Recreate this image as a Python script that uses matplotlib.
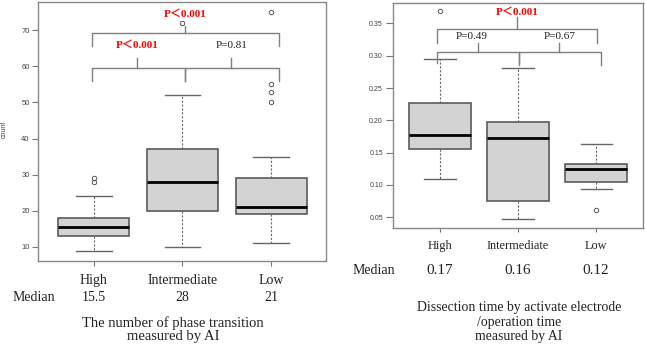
import matplotlib
matplotlib.use("Agg")
import matplotlib.pyplot as plt
from matplotlib.transforms import blended_transform_factory

# ---- data ----
groups = ["High", "Intermediate", "Low"]

# left: number of phase transitions
count_q1 = [13, 20, 19]
count_med = [15.5, 28, 21]
count_q3 = [18, 37, 29]
count_lo = [9, 10, 11]
count_hi = [24, 52, 35]
count_out = [[28, 29], [72], [50, 53, 55, 75]]
count_med_txt = ["15.5", "28", "21"]

# right: dissection time / operation time
ratio_q1 = [0.156, 0.076, 0.104]
ratio_med = [0.178, 0.173, 0.124]
ratio_q3 = [0.227, 0.197, 0.132]
ratio_lo = [0.109, 0.047, 0.094]
ratio_hi = [0.295, 0.281, 0.163]
ratio_out = [[0.369], [], [0.061]]
ratio_med_txt = ["0.17", "0.16", "0.12"]

SERIF = ["Liberation Serif", "Noto Sans CJK JP"]
W, H = 645, 346

def stats(q1, med, q3, lo, hi, out):
    return [dict(q1=a, med=b, q3=c, whislo=d, whishi=e, fliers=f)
            for a, b, c, d, e, f in zip(q1, med, q3, lo, hi, out)]

def draw_box(ax, st):
    ax.bxp(st, positions=[1, 2, 3], widths=0.8, capwidths=0.4, patch_artist=True,
           boxprops=dict(facecolor="#d3d3d3", edgecolor="#5a5a5a", linewidth=1.2),
           medianprops=dict(color="black", linewidth=2.0),
           whiskerprops=dict(color="#666666", linestyle=(0, (2, 1.5)), linewidth=0.8),
           capprops=dict(color="#666666", linewidth=1.0),
           flierprops=dict(marker="o", markersize=3.2, markerfacecolor="none",
                           markeredgecolor="#555555", markeredgewidth=0.7))
    for s in ax.spines.values():
        s.set_color("#888888")
        s.set_linewidth(1.0)
    ax.tick_params(colors="#777777", labelcolor="#444444", width=0.8)
    ax.set_xticks([1, 2, 3])
    ax.set_xticklabels([])

def brace(ax, x0, x1, y, ylow, xt, ytop):
    c = "#808080"
    ax.plot([x0, x0, x1, x1], [ylow, y, y, ylow], color=c, lw=1.0, clip_on=False)
    ax.plot([xt, xt], [y, ytop], color=c, lw=1.0, clip_on=False)

def ptext(ax, x, y, s, red):
    ax.text(x, y, s, ha="center", va="center", fontsize=8, family=SERIF,
            color="red" if red else "#222222", fontweight="bold" if red else "normal")

fig = plt.figure(figsize=(W / 100, H / 100), dpi=100)

# ---------------- left panel ----------------
ax1 = fig.add_axes([38 / W, 1 - 261 / H, 288 / W, 259 / H])
draw_box(ax1, stats(count_q1, count_med, count_q3, count_lo, count_hi, count_out))
ax1.set_xlim(0.37, 3.62)
ax1.set_ylim(6.1, 77.8)
ax1.set_yticks([10, 20, 30, 40, 50, 60, 70])
ax1.tick_params(axis="y", labelsize=5.5, length=4, pad=2)
ax1.tick_params(axis="x", length=3.5)
for lab in ax1.get_yticklabels():
    lab.set_family("Liberation Sans")
ax1.set_ylabel("count", fontsize=5, family="Liberation Sans", color="#444444")
ax1.yaxis.set_label_coords(-0.105, 0.51)

brace(ax1, 0.974, 2.03, 59.4, 55.9, 1.49, 62.4)
brace(ax1, 2.03, 3.09, 59.4, 55.9, 2.55, 62.4)
brace(ax1, 0.974, 3.09, 69.1, 65.6, 2.03, 71.2)
ptext(ax1, 2.03, 74.3, "P＜0.001", True)
ptext(ax1, 1.49, 65.8, "P＜0.001", True)
ptext(ax1, 2.55, 65.8, "P=0.81", False)

t1 = blended_transform_factory(ax1.transData, fig.transFigure)
for i, g in enumerate(groups):
    fig.text(i + 1, 1 - 284.3 / H, g, transform=t1, ha="center", va="baseline",
             fontsize=10, family=SERIF, color="#222222")
    fig.text(i + 1, 1 - 301 / H, count_med_txt[i], transform=t1, ha="center",
             va="baseline", fontsize=10, family=SERIF, color="#222222")
fig.text(34 / W, 1 - 301 / H, "Median", ha="center", va="baseline", fontsize=10,
         family=SERIF, color="#222222")
fig.text(173 / W, 1 - 326.8 / H, "The number of phase transition", ha="center",
         va="baseline", fontsize=10.5, family=SERIF, color="#222222")
fig.text(173 / W, 1 - 339.8 / H, "measured by AI", ha="center",
         va="baseline", fontsize=10.5, family=SERIF, color="#222222")

# ---------------- right panel ----------------
ax2 = fig.add_axes([392.7 / W, 1 - 228.3 / H, 250.3 / W, 225.6 / H])
draw_box(ax2, stats(ratio_q1, ratio_med, ratio_q3, ratio_lo, ratio_hi, ratio_out))
ax2.set_xlim(0.394, 3.6)
ax2.set_ylim(0.033, 0.382)
ax2.set_yticks([0.05, 0.10, 0.15, 0.20, 0.25, 0.30, 0.35])
ax2.set_yticklabels(["%.2f" % v for v in [0.05, 0.10, 0.15, 0.20, 0.25, 0.30, 0.35]])
ax2.tick_params(axis="y", labelsize=5, length=5, pad=2)
ax2.tick_params(axis="x", length=3)
for lab in ax2.get_yticklabels():
    lab.set_family("Liberation Sans")

brace(ax2, 0.965, 2.01, 0.306, 0.289, 1.49, 0.319)
brace(ax2, 2.01, 3.06, 0.306, 0.286, 2.53, 0.319)
brace(ax2, 0.965, 3.017, 0.341, 0.319, 1.98, 0.36)
ptext(ax2, 1.99, 0.367, "P＜0.001", True)
ptext(ax2, 1.41, 0.329, "P=0.49", False)
ptext(ax2, 2.53, 0.329, "P=0.67", False)

t2 = blended_transform_factory(ax2.transData, fig.transFigure)
for i, g in enumerate(groups):
    fig.text(i + 1, 1 - 249.3 / H, g, transform=t2, ha="center", va="baseline",
             fontsize=8.8, family=SERIF, color="#222222")
    fig.text(i + 1, 1 - 274.5 / H, ratio_med_txt[i], transform=t2, ha="center",
             va="baseline", fontsize=11, family=SERIF, color="#222222")
fig.text(374.3 / W, 1 - 274.3 / H, "Median", ha="center", va="baseline", fontsize=10,
         family=SERIF, color="#222222")
for txt, yb in zip(["Dissection time by activate electrode", "/operation time",
                    "measured by AI"], [311, 325.7, 340]):
    fig.text(519 / W, 1 - yb / H, txt, ha="center", va="baseline", fontsize=9.9,
             family=SERIF, color="#222222")

fig.savefig("out.png", dpi=100)
